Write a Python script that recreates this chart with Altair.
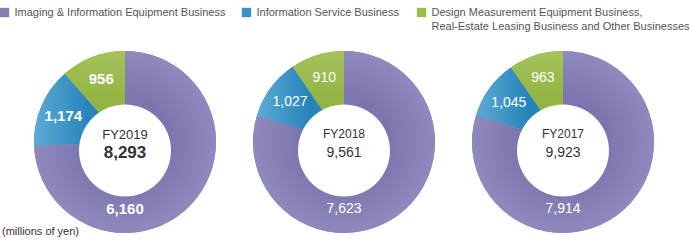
import altair as alt
import pandas as pd

# ---- data ----
years = ["FY2019", "FY2018", "FY2017"]
segments = [
    "Imaging & Information Equipment Business",
    "Information Service Business",
    "Design Measurement Equipment Business,|Real-Estate Leasing Business and Other Businesses",
]
imaging = [6160, 7623, 7914]
info_service = [1174, 1027, 1045]
design_other = [956, 910, 963]
totals = [8293, 9561, 9923]
unit_note = ["(millions of yen)"]

# ---- styles / layout ----
FONT = "Liberation Sans"
colors = ["#8580b6", "#3a91c3", "#9cbc4b"]
CX_RANGE = [125, 563]
CY = 142
R_OUT = 91
R_IN = 46
IN_DY = 8.5
TAU = 6.283185307179586
LEG_SWATCH_X = [4.5, 246.5, 421.5]
LEG_TEXT_DX = 10
LEG_Y = [12.5, 27]

gradients = [
    alt.Gradient(gradient="radial", x1=0.5, y1=0.5, r1=0, x2=0.5, y2=0.5, r2=0.5,
                 stops=[alt.GradientStop(color="#7c76ae", offset=0.5),
                        alt.GradientStop(color="#8e8abe", offset=1)]),
    alt.Gradient(gradient="linear", x1=0, y1=0, x2=1, y2=0,
                 stops=[alt.GradientStop(color="#5cabd4", offset=0),
                        alt.GradientStop(color="#2784bb", offset=0.6)]),
    alt.Gradient(gradient="linear", x1=0, y1=0, x2=0, y2=1,
                 stops=[alt.GradientStop(color="#a4c259", offset=0),
                        alt.GradientStop(color="#90b240", offset=0.65)]),
]

rows = []
for i, yr in enumerate(years):
    for k, (seg, vals) in enumerate(zip(segments, [imaging, info_service, design_other])):
        rows.append({"year": yr, "segment": seg, "order": k, "value": vals[i]})
df = pd.DataFrame(rows)
tot_df = pd.DataFrame({"year": years, "total": totals})
note_df = pd.DataFrame({"note": unit_note})

x_enc = alt.X("year:N", scale=alt.Scale(type="point", domain=years, range=CX_RANGE, padding=0), axis=None)
theta_scale = alt.Scale(domain=[0, 1], range=[0, TAU])

base = (
    alt.Chart(df)
    .transform_joinaggregate(sum_v="sum(value)", groupby=["year"])
    .transform_window(cum="sum(value)", sort=[alt.SortField("order")], groupby=["year"], frame=[None, 0])
    .transform_calculate(end="datum.cum / datum.sum_v", start="(datum.cum - datum.value) / datum.sum_v")
    .transform_calculate(lab="datum.order == 0 ? 0.5 : (datum.start + datum.end) / 2")
)

arcs = base.mark_arc(radius=R_OUT, strokeWidth=0).encode(
    x=x_enc,
    y=alt.value(CY),
    theta=alt.Theta("start:Q", scale=theta_scale),
    theta2="end:Q",
    color=alt.Color("segment:N", scale=alt.Scale(domain=segments, range=colors), legend=None),
)

grad_layers = [
    base.transform_filter(alt.datum.order == k).mark_arc(radius=R_OUT, strokeWidth=0, fill=g).encode(
        x=x_enc, y=alt.value(CY),
        theta=alt.Theta("start:Q", scale=theta_scale), theta2="end:Q",
    )
    for k, g in enumerate(gradients)
]

hole = alt.Chart(tot_df).mark_arc(radius=R_IN, theta=0, theta2=TAU, color="white", strokeWidth=0).encode(
    x=x_enc, y=alt.value(CY + IN_DY)
)

seg_bold = base.transform_filter(alt.datum.year == years[0]).mark_text(
    radius=67, color="white", font=FONT, fontSize=15, fontWeight="bold", baseline="middle"
).encode(x=x_enc, y=alt.value(CY), theta=alt.Theta("lab:Q", scale=theta_scale), text=alt.Text("value:Q", format=","))

seg_norm = base.transform_filter(alt.datum.year != years[0]).mark_text(
    radius=67, color="white", font=FONT, fontSize=14, baseline="middle"
).encode(x=x_enc, y=alt.value(CY), theta=alt.Theta("lab:Q", scale=theta_scale), text=alt.Text("value:Q", format=","))

cen = alt.Chart(tot_df)
fy_bold = cen.transform_filter(alt.datum.year == years[0]).mark_text(
    font=FONT, fontSize=13, color="#333333", baseline="middle", dy=-7
).encode(x=x_enc, y=alt.value(CY), text="year:N")
tot_bold = cen.transform_filter(alt.datum.year == years[0]).mark_text(
    font=FONT, fontSize=17, fontWeight="bold", color="#333333", baseline="middle", dy=11
).encode(x=x_enc, y=alt.value(CY), text=alt.Text("total:Q", format=","))
fy_norm = cen.transform_filter(alt.datum.year != years[0]).mark_text(
    font=FONT, fontSize=12, color="#333333", baseline="middle", dy=-8
).encode(x=x_enc, y=alt.value(CY), text="year:N")
tot_norm = cen.transform_filter(alt.datum.year != years[0]).mark_text(
    font=FONT, fontSize=14, color="#333333", baseline="middle", dy=11
).encode(x=x_enc, y=alt.value(CY), text=alt.Text("total:Q", format=","))

note = alt.Chart(note_df).mark_text(
    font=FONT, fontSize=11, color="#333333", align="left", baseline="middle"
).encode(x=alt.value(2), y=alt.value(232), text="note:N")

# ---- legend (drawn as marks: swatch + one text per label line) ----
legend_layers = []
for k, seg in enumerate(segments):
    seg_df = pd.DataFrame({"segment": [seg]})
    legend_layers.append(
        alt.Chart(seg_df).mark_square(size=88, opacity=1, color=colors[k], strokeWidth=0).encode(
            x=alt.value(LEG_SWATCH_X[k]), y=alt.value(LEG_Y[0])
        )
    )
    for j, line in enumerate(seg.split("|")):
        line_df = pd.DataFrame({"label": [line]})
        legend_layers.append(
            alt.Chart(line_df).mark_text(
                font=FONT, fontSize=11, color="#555555", align="left", baseline="middle"
            ).encode(x=alt.value(LEG_SWATCH_X[k] + LEG_TEXT_DX), y=alt.value(LEG_Y[j]), text="label:N")
        )

chart = (
    alt.layer(arcs, *grad_layers, hole, seg_bold, seg_norm, fy_bold, tot_bold, fy_norm, tot_norm, note,
              *legend_layers)
    .properties(width=690, height=240, padding=0, autosize=alt.AutoSizeParams(type="none"))
    .configure_view(stroke=None)
)

chart.save("out.html", embed_options={"renderer": "svg", "actions": False})
